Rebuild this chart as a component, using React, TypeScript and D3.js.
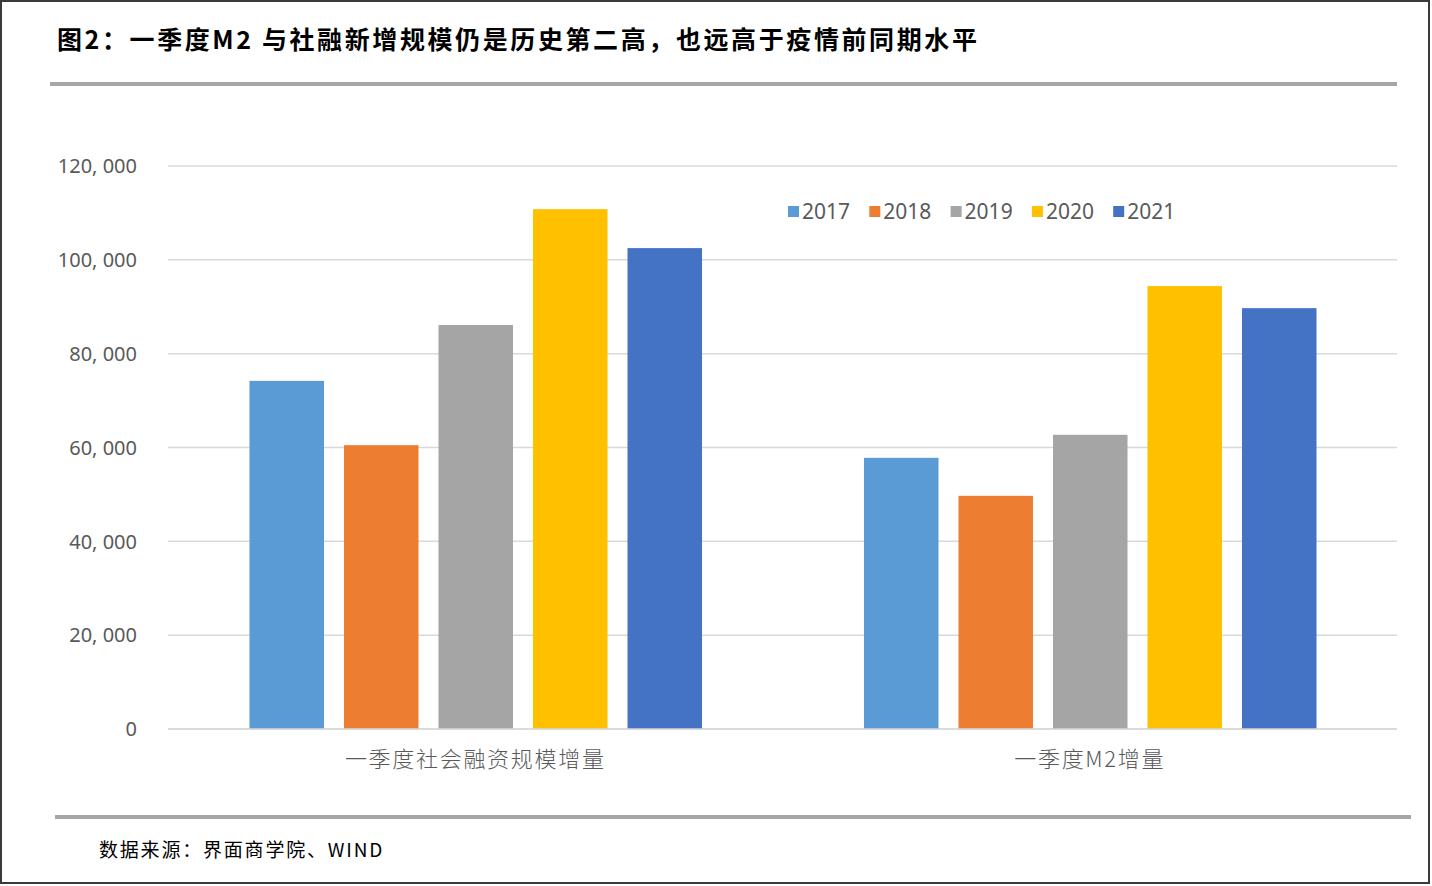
import React from "react";
import * as d3 from "d3";

const categories = ["一季度社会融资规模增量", "一季度M2增量"];
const years = ["2017", "2018", "2019", "2020", "2021"];
// values per year, in the order of categories
const values2017 = [74200, 57800];
const values2018 = [60500, 49700];
const values2019 = [86100, 62700];
const values2020 = [110800, 94400];
const values2021 = [102500, 89700];
const yTicks = [0, 20000, 40000, 60000, 80000, 100000, 120000];
const colors = ["#5b9bd5", "#ed7d31", "#a5a5a5", "#ffc000", "#4472c4"];

const title = "图2：一季度M2 与社融新增规模仍是历史第二高，也远高于疫情前同期水平";
const source = "数据来源：界面商学院、WIND";

const W = 1432;
const H = 886;
const m = { t: 166, r: 35, b: 157, l: 168 };

const App = () => {
    const series = [values2017, values2018, values2019, values2020, values2021];

    const x0 = d3.scaleBand<string>()
        .domain(categories)
        .range([m.l, W - m.r])
        .paddingInner(0)
        .paddingOuter(0);
    const x1 = d3.scaleBand<string>()
        .domain(years)
        .range([0, x0.bandwidth()])
        .paddingInner(0.2116)
        .paddingOuter(0.857);
    const y = d3.scaleLinear()
        .domain([0, 120000])
        .range([H - m.b, m.t]);

    const fmt = d3.format(",");
    const grey = "#595959";
    const cjk = "'Noto Sans CJK SC', 'Noto Sans', sans-serif";

    return (
        <svg width={W} height={H} style={{ position: "absolute", left: 0, top: 0, background: "#fff" }}>
            <rect x={1} y={1} width={W - 4} height={H - 4} fill="#fff" stroke="#3a3a3a" strokeWidth={2} />
            <text x={57} y={49} fontFamily={cjk} fontSize={25} fontWeight={700} letterSpacing={2.6} fill="#000">
                {title}
            </text>
            <rect x={50} y={82} width={1347} height={4} fill="#a6a6a6" />

            {/* grid + y ticks */}
            {yTicks.map(t => (
                <g key={t}>
                    <line x1={m.l} x2={W - m.r} y1={y(t)} y2={y(t)} stroke="#d9d9d9" strokeWidth={1.5} />
                    <text x={137} y={y(t)} dy="0.36em" textAnchor="end" fontFamily="'Noto Sans', sans-serif"
                          fontSize={20} fill={grey}>
                        {fmt(t).replace(",", ", ")}
                    </text>
                </g>
            ))}

            {/* bars */}
            {categories.map((c, ci) => (
                <g key={c} transform={`translate(${x0(c)},0)`}>
                    {years.map((yr, yi) => (
                        <rect key={yr}
                              x={x1(yr)! + 0.5}
                              y={y(series[yi][ci])}
                              width={x1.bandwidth()}
                              height={y(0) - y(series[yi][ci])}
                              fill={colors[yi]} />
                    ))}
                    <text x={x0.bandwidth() / 2} y={767} textAnchor="middle" fontFamily={cjk}
                          fontSize={22} fontWeight={300} letterSpacing={1.7} fill={grey}>
                        {c}
                    </text>
                </g>
            ))}
            <line x1={m.l} x2={W - m.r} y1={y(0)} y2={y(0)} stroke="#d9d9d9" strokeWidth={1.5} />

            {/* legend */}
            {years.map((yr, i) => (
                <g key={yr} transform={`translate(${788 + i * 81.3},211)`}>
                    <rect x={0} y={-5} width={11} height={11} fill={colors[i]} />
                    <text x={14} y={0} dy="0.36em" fontFamily="'Noto Sans', sans-serif" fontSize={21} fill={grey}>
                        {yr}
                    </text>
                </g>
            ))}

            <rect x={55} y={815} width={1356} height={4} fill="#a6a6a6" />
            <text x={99} y={857} fontFamily={cjk} fontSize={19} letterSpacing={1.8} fill="#000">
                {source}
            </text>
        </svg>
    );
};

export default App;
